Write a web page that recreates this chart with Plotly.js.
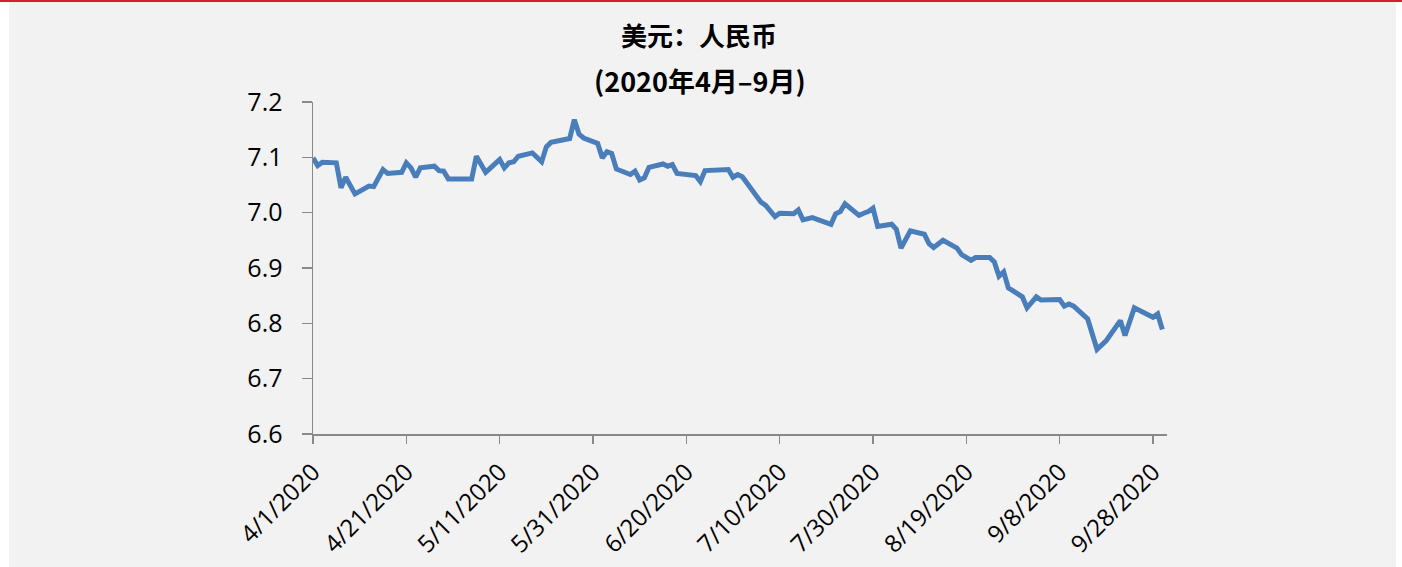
<!DOCTYPE html>
<html>
<head>
<meta charset="utf-8">
<script src="https://cdn.plot.ly/plotly-3.0.1.min.js"></script>
<style>
  html, body { margin: 0; padding: 0; background: #ffffff; width: 1402px; height: 567px; overflow: hidden; }
  #topline { position: absolute; left: 0; top: 0; width: 1402px; height: 2px; background: #d2202f; }
  #chart { position: absolute; left: 9px; top: 2px; width: 1387px; height: 565px; }
</style>
</head>
<body>
<div id="topline"></div>
<div id="chart"></div>
<script>
const dates = [
  '2020-04-01','2020-04-02','2020-04-03','2020-04-06','2020-04-07','2020-04-08','2020-04-10',
  '2020-04-13','2020-04-14','2020-04-16','2020-04-17','2020-04-20','2020-04-21','2020-04-22',
  '2020-04-23','2020-04-24','2020-04-27','2020-04-28','2020-04-29','2020-04-30','2020-05-05',
  '2020-05-06','2020-05-08','2020-05-11','2020-05-12','2020-05-13','2020-05-14','2020-05-15',
  '2020-05-18','2020-05-20','2020-05-21','2020-05-22','2020-05-26','2020-05-27','2020-05-28',
  '2020-05-29','2020-06-01','2020-06-02','2020-06-03','2020-06-04','2020-06-05','2020-06-08',
  '2020-06-09','2020-06-10','2020-06-11','2020-06-12','2020-06-15','2020-06-16','2020-06-17',
  '2020-06-18','2020-06-22','2020-06-23','2020-06-24','2020-06-29','2020-06-30','2020-07-01',
  '2020-07-02','2020-07-06','2020-07-07','2020-07-09','2020-07-10','2020-07-13','2020-07-14',
  '2020-07-15','2020-07-17','2020-07-21','2020-07-22','2020-07-23','2020-07-24','2020-07-27',
  '2020-07-28','2020-07-29','2020-07-30','2020-07-31','2020-08-03','2020-08-04','2020-08-05',
  '2020-08-07','2020-08-10','2020-08-11','2020-08-12','2020-08-14','2020-08-17','2020-08-18',
  '2020-08-20','2020-08-21','2020-08-24','2020-08-25','2020-08-26','2020-08-27','2020-08-28',
  '2020-08-31','2020-09-01','2020-09-03','2020-09-04','2020-09-08','2020-09-09','2020-09-10',
  '2020-09-11','2020-09-14','2020-09-16','2020-09-18','2020-09-21','2020-09-22','2020-09-24',
  '2020-09-28','2020-09-29','2020-09-30'
];
const usdcny = [
  7.099, 7.085, 7.091, 7.090, 7.045, 7.064, 7.034,
  7.048, 7.047, 7.078, 7.071, 7.073, 7.090, 7.081,
  7.064, 7.081, 7.084, 7.076, 7.075, 7.061, 7.061,
  7.102, 7.073, 7.096, 7.081, 7.090, 7.092, 7.102,
  7.108, 7.092, 7.119, 7.127, 7.134, 7.168, 7.142,
  7.135, 7.125, 7.099, 7.110, 7.107, 7.079, 7.069,
  7.075, 7.059, 7.063, 7.082, 7.088, 7.084, 7.087,
  7.071, 7.067, 7.056, 7.076, 7.078, 7.064, 7.069,
  7.065, 7.019, 7.013, 6.993, 6.999, 6.998, 7.005,
  6.987, 6.991, 6.979, 6.998, 7.002, 7.016, 6.995,
  6.999, 7.002, 7.008, 6.975, 6.979, 6.970, 6.936,
  6.967, 6.961, 6.944, 6.937, 6.950, 6.936, 6.924,
  6.914, 6.919, 6.919, 6.911, 6.885, 6.893, 6.864,
  6.848, 6.828, 6.848, 6.842, 6.843, 6.831, 6.835,
  6.831, 6.808, 6.753, 6.769, 6.805, 6.778, 6.828,
  6.811, 6.817, 6.789
];
const tickDates = ['2020-04-01','2020-04-21','2020-05-11','2020-05-31','2020-06-20',
  '2020-07-10','2020-07-30','2020-08-19','2020-09-08','2020-09-28'];
const tickLabels = ['4/1/2020','4/21/2020','5/11/2020','5/31/2020','6/20/2020',
  '7/10/2020','7/30/2020','8/19/2020','9/8/2020','9/28/2020'];
const titleLine1 = '美元：人民币';
const titleLine2 = '(2020年4月–9月)';

const FONT = '"Open Sans", "Noto Sans CJK SC", sans-serif';
const TFONT = '"Noto Sans CJK SC", "Open Sans", sans-serif';
const AX = '#898989';

const trace = {
  x: dates, y: usdcny, type: 'scatter', mode: 'lines',
  line: { color: '#4a7ebb', width: 5, shape: 'linear' },
  hoverinfo: 'x+y', showlegend: false
};

const layout = {
  width: 1387, height: 565,
  paper_bgcolor: '#f2f2f2', plot_bgcolor: '#f2f2f2',
  margin: { l: 304, r: 229, t: 100, b: 133, pad: 0 },
  font: { family: FONT, color: '#000000', size: 22 },
  title: {
    text: titleLine1, xref: 'container', yref: 'container',
    x: 0.4975, y: 1 - 35 / 565, xanchor: 'center', yanchor: 'middle',
    font: { family: TFONT, size: 26, color: '#000000', weight: 'bold' }
  },
  annotations: [{
    text: titleLine2, xref: 'paper', yref: 'paper',
    x: (700 - 313) / 854, y: 1 + (102 - 81) / 330, xanchor: 'center', yanchor: 'middle',
    showarrow: false, font: { family: TFONT, size: 27, color: '#000000', weight: 'bold' }
  }],
  xaxis: {
    type: 'date', range: ['2020-04-01', '2020-10-01'], automargin: false,
    tickmode: 'array', tickvals: tickDates, ticktext: tickLabels,
    tickangle: -45, ticks: 'outside', ticklen: 8, tickwidth: 1.5, tickcolor: AX,
    showline: true, linecolor: AX, linewidth: 1.5,
    showgrid: false, zeroline: false, ticklabelstandoff: 5,
    tickfont: { family: FONT, size: 24, color: '#000000' }
  },
  yaxis: {
    range: [6.6, 7.2], tick0: 6.6, dtick: 0.1, tickformat: '.1f', automargin: false,
    ticks: 'outside', ticklen: 10, tickwidth: 1.5, tickcolor: AX,
    showline: true, linecolor: AX, linewidth: 1.5,
    showgrid: false, zeroline: false, ticklabelstandoff: 14,
    tickfont: { family: FONT, size: 25, color: '#000000' }
  }
};

Plotly.newPlot('chart', [trace], layout, { staticPlot: true, displayModeBar: false });
</script>
</body>
</html>
